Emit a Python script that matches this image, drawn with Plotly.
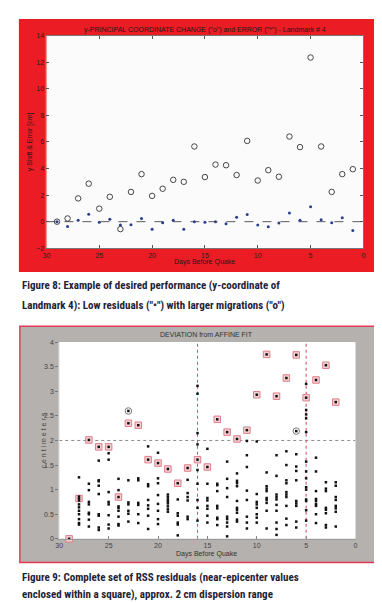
import plotly.graph_objects as go

W, H = 382, 603

# ---------------- Figure 8 data ----------------
days_top = list(range(29, 0, -1))
coord_change = [0.0, 0.24, 1.75, 2.86, 0.98, 1.87, -0.56, 2.24, 3.58, 1.94, 2.48, 3.15, 3.0, 5.66,
                3.36, 4.3, 4.25, 3.51, 6.08, 3.1, 3.88, 3.38, 6.41, 5.61, 12.36, 5.66, 2.24, 3.58, 3.95]
coord_error = [0.0, -0.36, 0.1, 0.56, -0.04, 0.19, -0.26, -0.23, 0.24, -0.58, -0.09, 0.1, -0.58, 0.0,
               -0.04, 0.0, -0.16, 0.33, 0.54, -0.26, -0.38, -0.11, 0.65, 0.1, 1.13, 0.14, -0.09, 0.29, -0.66]
top_yticks = [-2, 0, 2, 4, 6, 8, 10, 12, 14]
day_ticks = [30, 25, 20, 15, 10, 5, 0]

# ---------------- Figure 9 data ----------------
residuals_by_day = {
    28: [1.25, 0.86, 0.78, 0.7, 0.64, 0.57, 0.5, 0.4, 0.32, 0.29],
    27: [1.12, 0.99, 0.75, 0.7, 0.53, 0.5, 0.39, 0.25],
    26: [1.59, 1.19, 1.17, 1.08, 0.91, 0.5, 0.47, 0.23, 0.18],
    25: [1.74, 1.61, 0.95, 0.75, 0.7, 0.48, 0.29, 0.21],
    24: [1.22, 0.99, 0.66, 0.63, 0.57, 0.45, 0.3, 0.27],
    23: [1.19, 0.74, 0.7, 0.57, 0.51, 0.35],
    22: [1.23, 1.19, 0.73, 0.69, 0.5, 0.32],
    21: [1.88, 1.11, 1.07, 0.79, 0.68, 0.61, 0.47, 0.2],
    20: [1.75, 1.23, 1.13, 0.89, 0.71, 0.57, 0.4, 0.3],
    19: [0.9, 0.85, 0.8, 0.76, 0.72, 0.66, 0.6, 0.55],
    18: [0.8, 0.52, 0.47, 0.33, 0.29, 0.07],
    17: [1.2, 0.93, 0.85, 0.78, 0.45, 0.4],
    16: [3.11, 2.95, 2.15, 1.92, 1.4, 1.12, 0.79, 0.63, 0.37],
    15: [1.83, 1.12, 0.83, 0.78, 0.67, 0.61, 0.47, 0.33],
    14: [1.12, 1.09, 0.97, 0.67, 0.62, 0.43, 0.4, 0.28],
    13: [1.57, 1.22, 1.03, 0.85, 0.45, 0.4, 0.33, 0.25, 0.05],
    12: [1.33, 1.18, 1.13, 1.07, 0.77, 0.63, 0.59, 0.53, 0.39, 0.35],
    11: [1.99, 1.7, 1.46, 0.98, 0.79, 0.45, 0.33, 0.21],
    10: [1.98, 0.91, 0.75, 0.7, 0.63, 0.5, 0.43, 0.33],
    9: [1.35, 1.07, 1.02, 0.97, 0.83, 0.79, 0.73, 0.57, 0.21],
    8: [1.7, 1.28, 0.9, 0.85, 0.8, 0.69, 0.57, 0.33, 0.2, 0.08],
    7: [1.78, 1.5, 1.19, 1.13, 0.95, 0.9, 0.85, 0.67, 0.41, 0.28],
    6: [1.72, 1.47, 1.38, 1.19, 0.77, 0.72, 0.67, 0.35, 0.23],
    5: [3.15, 2.62, 2.53, 2.45, 2.17, 1.57, 1.37, 1.23, 1.05, 1.0, 0.8, 0.77, 0.58, 0.37],
    4: [1.65, 1.37, 0.97, 0.81, 0.77, 0.71, 0.67, 0.5, 0.32],
    3: [1.15, 1.02, 0.97, 0.63, 0.59, 0.52, 0.28, 0.23],
    2: [1.15, 1.08, 0.85, 0.79, 0.67, 0.62, 0.55, 0.25],
}
boxed_days = list(range(29, 1, -1))
boxed_values = [0.0, 0.82, 2.01, 1.87, 1.87, 0.85, 2.35, 2.31, 1.61, 1.54, 1.42, 1.13, 1.44, 1.61,
                1.46, 2.43, 2.17, 2.03, 2.21, 2.93, 3.75, 2.9, 3.27, 3.74, 2.87, 3.23, 3.53, 2.78]
circled_days = [23, 6]
circled_values = [2.6, 2.19]
marker_days = [16, 5]
dispersion_level = 2
bottom_yticks = [0, 0.5, 1, 1.5, 2, 2.5, 3, 3.5, 4]

res_x, res_y = [], []
for d, vals in residuals_by_day.items():
    for v in vals:
        res_x.append(d)
        res_y.append(v)

# ---------------- layout geometry (pixels) ----------------
def px(x):
    return x / W

def py(y):
    return 1 - y / H

top_dom_x = [px(35), px(357)]
top_dom_y = [py(239), py(24)]
bot_dom_x = [px(48), px(349)]
bot_dom_y = [py(533), py(334)]

fig = go.Figure()

# Figure 8 traces
fig.add_trace(go.Scatter(x=[30, 0], y=[0, 0], mode="lines", xaxis="x", yaxis="y",
                         line=dict(color="#333333", width=0.8, dash="dash"), hoverinfo="skip"))
fig.add_trace(go.Scatter(x=days_top, y=coord_change, mode="markers", xaxis="x", yaxis="y",
                         marker=dict(symbol="circle-open", size=5.5, color="#333333", line=dict(width=0.9))))
fig.add_trace(go.Scatter(x=days_top, y=coord_error, mode="markers", xaxis="x", yaxis="y",
                         marker=dict(symbol="circle", size=3, color="#2c3f8c")))

# Figure 9 traces
fig.add_trace(go.Scatter(x=[30, 0], y=[dispersion_level] * 2, mode="lines", xaxis="x2", yaxis="y2",
                         line=dict(color="#8a8a8a", width=1, dash="dot"), hoverinfo="skip"))
for d in marker_days:
    fig.add_trace(go.Scatter(x=[d, d], y=[0, 4], mode="lines", xaxis="x2", yaxis="y2",
                             line=dict(color="#d6536e", width=1.1, dash="dot"), hoverinfo="skip"))
fig.add_trace(go.Scatter(x=boxed_days, y=boxed_values, mode="markers", xaxis="x2", yaxis="y2",
                         cliponaxis=False,
                         marker=dict(symbol="square", size=6.5, color="#f5d0d3",
                                     line=dict(color="#de7f8b", width=1))))
fig.add_trace(go.Scatter(x=circled_days, y=circled_values, mode="markers", xaxis="x2", yaxis="y2",
                         marker=dict(symbol="circle-open", size=6.5, color="#777777", line=dict(width=1))))
fig.add_trace(go.Scatter(x=res_x + boxed_days + circled_days, y=res_y + boxed_values + circled_values,
                         mode="markers", xaxis="x2", yaxis="y2", cliponaxis=False,
                         marker=dict(symbol="square", size=2.5, color="#111111")))

tick_font = dict(family="Liberation Sans, Arial, sans-serif", size=7, color="#222222")
bot_tick_font = dict(family="Liberation Sans, Arial, sans-serif", size=7, color="#444444")

fig.update_layout(
    width=W, height=H, margin=dict(l=0, r=0, t=0, b=0),
    paper_bgcolor="white", plot_bgcolor="rgba(0,0,0,0)", showlegend=False,
    xaxis=dict(domain=top_dom_x, anchor="y", range=[30, 0], tickvals=day_ticks,
               ticktext=[str(t) for t in day_ticks], showgrid=False, zeroline=False,
               showline=True, linecolor="#777777", linewidth=1, mirror="ticks",
               ticks="inside", ticklen=3, tickcolor="#555555", tickfont=tick_font),
    yaxis=dict(domain=top_dom_y, anchor="x", range=[-2, 14], tickvals=top_yticks,
               showgrid=False, zeroline=False, showline=True, linecolor="#777777", linewidth=1,
               mirror="ticks", ticks="inside", ticklen=3, tickcolor="#555555", tickfont=tick_font),
    xaxis2=dict(domain=bot_dom_x, anchor="y2", range=[30, 0], tickvals=day_ticks,
                ticktext=[str(t) for t in day_ticks], showgrid=False, zeroline=False,
                showline=True, linecolor="#9a9a9a", linewidth=1, ticks="inside", ticklen=3,
                tickcolor="#888888", tickfont=bot_tick_font),
    yaxis2=dict(domain=bot_dom_y, anchor="x2", range=[0, 4], tickvals=bottom_yticks,
                ticktext=["0", "0.5", "1", "1.5", "2", "2.5", "3", "3.5", "4"],
                showgrid=False, zeroline=False, showline=True, linecolor="#c8c8c8", linewidth=1,
                ticks="outside", ticklen=3, tickcolor="#777777", tickfont=bot_tick_font),
)

shapes = [
    # red panel for Figure 8
    dict(type="rect", xref="paper", yref="paper", x0=px(7), x1=px(375), y0=py(263), y1=py(7),
         fillcolor="#ec1c24", line=dict(width=0), layer="below"),
    dict(type="rect", xref="paper", yref="paper", x0=top_dom_x[0], x1=top_dom_x[1],
         y0=top_dom_y[0], y1=top_dom_y[1], fillcolor="#fbfbfb", line=dict(width=0), layer="below"),
    # gray panel for Figure 9
    dict(type="rect", xref="paper", yref="paper", x0=px(8), x1=px(374), y0=py(557), y1=py(318),
         fillcolor="#b5b1ae", line=dict(color="#e23a55", width=1.5), layer="below"),
    dict(type="rect", xref="paper", yref="paper", x0=bot_dom_x[0], x1=bot_dom_x[1],
         y0=bot_dom_y[0], y1=bot_dom_y[1], fillcolor="#ffffff", line=dict(width=0), layer="below"),
]
fig.update_layout(shapes=shapes)

small = dict(family="Liberation Sans, Arial, sans-serif", size=7, color="#1a1a1a")
cap_font = dict(family="Liberation Sans Narrow, Roboto Condensed, Roboto, sans-serif", size=11,
                color="#1f2236", weight="bold")

annotations = [
    dict(text='y-PRINCIPAL COORDINATE CHANGE ("o") and ERROR ("*") - Landmark # 4',
         x=px(196), y=py(18), font=small),
    dict(text="Days Before Quake", x=px(196), y=py(253), font=small),
    dict(text="y Shift &amp; Error [cm]", x=px(19), y=py(131), textangle=-90, font=small),
    dict(text="DEVIATION from AFFINE FIT", x=px(198), y=py(326), font=dict(small, color="#333333")),
    dict(text="Days Before Quake", x=px(198), y=py(548), font=dict(small, color="#333333")),
    dict(text="c e n t i m e t e r s", x=px(32), y=py(433), textangle=-90,
         font=dict(small, color="#444444")),
    dict(text="Figure 8: Example of desired performance (y-coordinate of", x=px(8), y=py(277),
         xanchor="left", font=cap_font),
    dict(text='Landmark 4): Low residuals ("•") with larger migrations ("o")', x=px(8), y=py(297),
         xanchor="left", font=cap_font),
    dict(text="Figure 9: Complete set of RSS residuals (near-epicenter values", x=px(8), y=py(572),
         xanchor="left", font=cap_font),
    dict(text="enclosed within a square), approx. 2 cm dispersion range", x=px(8), y=py(589),
         xanchor="left", font=cap_font),
]
for a in annotations:
    a.setdefault("xanchor", "center")
    a.update(xref="paper", yref="paper", yanchor="middle", showarrow=False)
fig.update_layout(annotations=annotations)

fig.write_html("out.html")
